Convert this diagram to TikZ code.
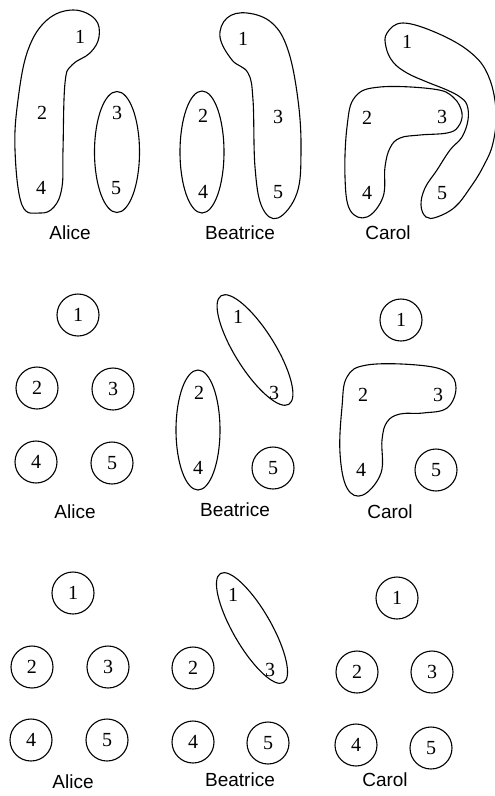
\documentclass[tikz,border=0pt]{standalone}
\usepackage{fontspec}
\setmainfont{Liberation Serif}
\newfontfamily\namefont{Liberation Sans}

\begin{document}
\begin{tikzpicture}[x=1pt, y=-1pt]
        % Common Styles
        \tikzset{member/.style={inner sep=0pt, font=\fontsize{20}{24}\selectfont}}
        \tikzset{lone/.style={member, draw, circle, line width=1.1pt, minimum size=42pt}}
        \tikzset{person/.style={font=\namefont\fontsize{19}{22}\selectfont}}
        \tikzset{group/.style={line width=1.1pt, smooth cycle, tension=0.65}}

        \useasboundingbox (0,0) rectangle (495,796);

        % 1. First row: everybody grouped
        \node[member] (r1a1) at (80,37) {1};
        \node[member] (r1a2) at (42,113) {2};
        \node[member] (r1a3) at (117,113) {3};
        \node[member] (r1a4) at (41,188) {4};
        \node[member] (r1a5) at (116,188) {5};
        \draw[group] plot coordinates {(73,10) (95,19) (99,37) (90,53) (72,65) (65,83) (63,150) (62,187) (54,207) (40,213) (22,205) (15,150) (18,100) (28,50) (47,20)};
        \draw[line width=1.1pt] (117,152) ellipse (22.5 and 60.5);
        \node[person] (r1A) at (70,233) {Alice};

        \node[member] (r1b1) at (243,39) {1};
        \node[member] (r1b2) at (203,116) {2};
        \node[member] (r1b3) at (278,117) {3};
        \node[member] (r1b4) at (203,192) {4};
        \node[member] (r1b5) at (278,192) {5};
        \draw[group] plot coordinates {(247,13) (272,23) (288,50) (298,100) (301,150) (297,193) (278,218) (262,207) (255,167) (253,100) (248,73) (232,60) (220,37) (227,18)};
        \draw[line width=1.1pt] (202,152) ellipse (22 and 61);
        \node[person] (r1B) at (240,233) {Beatrice};

        \node[member] (r1c1) at (407,42) {1};
        \node[member] (r1c2) at (367,118) {2};
        \node[member] (r1c3) at (442,117) {3};
        \node[member] (r1c4) at (367,193) {4};
        \node[member] (r1c5) at (442,193) {5};
        \draw[group] plot coordinates {(355,97) (380,87) (433,89) (453,97) (462,113) (458,127) (447,133) (420,135) (400,138) (390,148) (385,167) (383,197) (367,217) (350,210) (345,177) (347,127)};
        \draw[group] plot coordinates {(387,33) (403,23) (437,33) (470,52) (488,75) (496,110) (493,143) (483,167) (470,188) (455,207) (437,217) (426,217) (421,205) (425,188) (437,170) (450,150) (462,137) (468,120) (467,105) (460,97) (447,90) (427,82) (407,73) (393,62) (386,47)};
        \node[person] (r1C) at (388,233) {Carol};

        % 2. Second row: fewer groups
        \node[lone] (r2a1) at (78,315) {1};
        \node[lone] (r2a2) at (37,388) {2};
        \node[lone] (r2a3) at (113,389) {3};
        \node[lone] (r2a4) at (36,462) {4};
        \node[lone] (r2a5) at (112,463) {5};
        \node[person] (r2A) at (75,512) {Alice};

        \node[member] (r2b1) at (238,317) {1};
        \node[member] (r2b3) at (274,393) {3};
        \node[member] (r2b2) at (199,393) {2};
        \node[member] (r2b4) at (198,468) {4};
        \node[lone] (r2b5) at (273,468) {5};
        \draw[line width=1.1pt, rotate around={32:(255,350)}] (255,350) ellipse (20 and 64);
        \draw[line width=1.1pt] (198,430) ellipse (22 and 60);
        \node[person] (r2B) at (235,510) {Beatrice};

        \node[lone] (r2c1) at (401,320) {1};
        \node[member] (r2c2) at (363,395) {2};
        \node[member] (r2c3) at (438,395) {3};
        \node[member] (r2c4) at (361,470) {4};
        \node[lone] (r2c5) at (436,470) {5};
        \draw[group] plot coordinates {(347,377) (367,365) (417,365) (447,372) (456,388) (447,408) (423,413) (400,414) (387,422) (382,440) (381,473) (363,495) (347,488) (340,453) (342,407)};
        \node[person] (r2C) at (390,512) {Carol};

        % 3. Third row: almost nobody grouped
        \node[lone] (r3a1) at (73,593) {1};
        \node[lone] (r3a2) at (32,667) {2};
        \node[lone] (r3a3) at (108,667) {3};
        \node[lone] (r3a4) at (31,740) {4};
        \node[lone] (r3a5) at (107,740) {5};
        \node[person] (r3A) at (73,782) {Alice};

        \node[member] (r3b1) at (233,595) {1};
        \node[member] (r3b3) at (270,670) {3};
        \node[lone] (r3b2) at (193,668) {2};
        \node[lone] (r3b4) at (193,742) {4};
        \node[lone] (r3b5) at (268,743) {5};
        \draw[line width=1.1pt, rotate around={30:(252,628)}] (252,628) ellipse (19 and 63);
        \node[person] (r3B) at (240,780) {Beatrice};

        \node[lone] (r3c1) at (397,598) {1};
        \node[lone] (r3c2) at (357,672) {2};
        \node[lone] (r3c3) at (432,672) {3};
        \node[lone] (r3c4) at (356,745) {4};
        \node[lone] (r3c5) at (431,748) {5};
        \node[person] (r3C) at (385,780) {Carol};
    \end{tikzpicture}
\end{document}
